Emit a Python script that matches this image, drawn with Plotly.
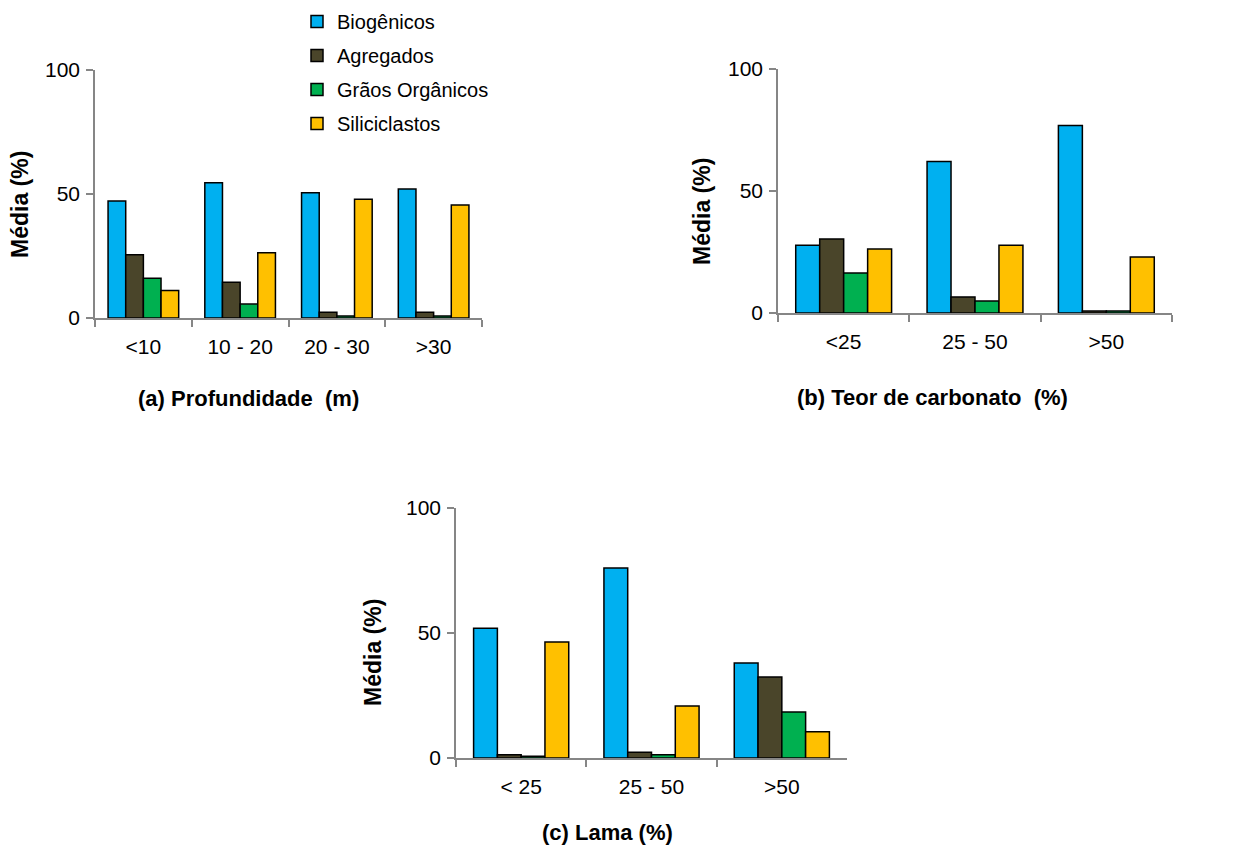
import plotly.graph_objects as go

series = ["Biogênicos", "Agregados", "Grãos Orgânicos", "Siliciclastos"]
colors = ["#00B0F0", "#4A452A", "#00B050", "#FFC000"]

cat_a = ["<10", "10 - 20", "20 - 30", ">30"]
vals_a = {
    "Biogênicos": [47.2, 54.5, 50.5, 52.0],
    "Agregados": [25.5, 14.4, 2.3, 2.3],
    "Grãos Orgânicos": [16.0, 5.6, 0.8, 0.8],
    "Siliciclastos": [11.1, 26.3, 47.9, 45.6],
}

cat_b = ["<25", "25 - 50", ">50"]
vals_b = {
    "Biogênicos": [27.8, 62.1, 76.8],
    "Agregados": [30.3, 6.6, 0.8],
    "Grãos Orgânicos": [16.4, 4.9, 0.8],
    "Siliciclastos": [26.2, 27.8, 22.9],
}

cat_c = ["< 25", "25 - 50", ">50"]
vals_c = {
    "Biogênicos": [51.9, 76.0, 38.0],
    "Agregados": [1.3, 2.3, 32.4],
    "Grãos Orgânicos": [0.7, 1.3, 18.4],
    "Siliciclastos": [46.4, 20.8, 10.5],
}

y_ticks = [0, 50, 100]
titles = ["(a) Profundidade  (m)", "(b) Teor de carbonato  (%)", "(c) Lama (%)"]
ytitle = "Média (%)"

W, H = 1250, 847
FONT = "Liberation Sans, Arial, sans-serif"

fig = go.Figure()

panels = [
    (cat_a, vals_a, "x", "y"),
    (cat_b, vals_b, "x2", "y2"),
    (cat_c, vals_c, "x3", "y3"),
]
for pi, (cats, vals, xa, ya) in enumerate(panels):
    for s, c in zip(series, colors):
        fig.add_trace(go.Bar(
            x=cats, y=vals[s], name=s, xaxis=xa, yaxis=ya,
            marker=dict(color=c, line=dict(color="#000000", width=1.5)),
            showlegend=(pi == 0), legendgroup=s,
        ))

def px_x(p):
    return p / W

def px_y(p):
    return 1 - p / H

# domains in pixels: (left, right, top(100), bottom(0))
doms = [(95, 482, 70, 318), (778, 1172, 69, 313), (456, 847, 508, 758)]

axis_common = dict(
    showgrid=False, zeroline=False, showline=True, linecolor="#868686", linewidth=1.5,
    ticks="outside", ticklen=7, tickcolor="#868686", tickwidth=1.5,
    tickfont=dict(family=FONT, size=21, color="#000000"),
)

layout_axes = {}
for i, (l, r, t, b) in enumerate(doms):
    sfx = "" if i == 0 else str(i + 1)
    layout_axes["xaxis" + sfx] = dict(
        domain=[px_x(l), px_x(r)], anchor="y" + sfx, tickson="boundaries",
        fixedrange=True, ticklabelstandoff=9, **axis_common,
    )
    layout_axes["yaxis" + sfx] = dict(
        domain=[px_y(b), px_y(t)], anchor="x" + sfx, range=[0, 100],
        tickvals=y_ticks, fixedrange=True, ticklabelstandoff=2, **axis_common,
    )

fig.update_layout(**layout_axes)

annotations = []
title_pos = [(248, 398), (933, 397), (607, 832)]
ytitle_pos = [(20, 205), (702, 212), (373, 653)]
for (tx, ty), txt in zip(title_pos, titles):
    annotations.append(dict(
        text="<b>" + txt + "</b>", x=px_x(tx), y=px_y(ty), xref="paper", yref="paper",
        xanchor="center", yanchor="middle", showarrow=False,
        font=dict(family=FONT, size=22, color="#000000"),
    ))
for (tx, ty) in ytitle_pos:
    annotations.append(dict(
        text="<b>" + ytitle + "</b>", x=px_x(tx), y=px_y(ty), xref="paper", yref="paper",
        xanchor="center", yanchor="middle", showarrow=False, textangle=-90,
        font=dict(family=FONT, size=23, color="#000000"),
    ))

fig.update_layout(
    width=W, height=H,
    margin=dict(l=0, r=0, t=0, b=0, autoexpand=False),
    paper_bgcolor="white", plot_bgcolor="white",
    barmode="group", bargap=0.27, bargroupgap=0,
    annotations=annotations,
    legend=dict(
        x=px_x(297), y=px_y(2), xanchor="left", yanchor="top",
        font=dict(family=FONT, size=20, color="#000000"),
        traceorder="grouped", tracegroupgap=5, itemwidth=30,
        bgcolor="rgba(0,0,0,0)",
    ),
    showlegend=True,
)

fig.write_html("out.html")
